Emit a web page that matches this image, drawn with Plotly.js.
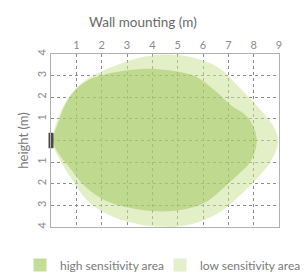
<!DOCTYPE html>
<html>
<head>
<meta charset="utf-8">
<script src="https://cdn.plot.ly/plotly-3.0.1.min.js"></script>
<style>
html,body{margin:0;padding:0;background:#fff;}
#chart{width:306px;height:273px;}
</style>
</head>
<body>
<div id="chart"></div>
<script>
// Low sensitivity area outline (x: distance from wall in m, y: height in m)
const lowX = [0.05, 0.3, 0.7, 1.2, 2.0, 2.9, 3.7, 4.3, 5.0, 5.7, 6.6, 7.4, 8.05, 8.58, 8.85, 8.97, 8.87, 8.65, 8.1, 7.4, 6.75, 5.95, 5.1, 4.3, 3.5, 2.4, 1.5, 0.85, 0.35, 0.1, 0.05];
const lowY = [0, 1.1, 2.0, 2.65, 3.2, 3.62, 3.88, 3.97, 3.95, 3.8, 3.38, 2.5, 1.7, 1.0, 0.5, 0, -0.5, -1.0, -1.8, -2.6, -3.25, -3.72, -3.97, -3.98, -3.88, -3.5, -2.85, -1.85, -0.9, -0.3, 0];
// High sensitivity area outline
const highX = [0.08, 0.32, 0.58, 0.96, 1.48, 2.4, 3.46, 4.24, 5.03, 5.69, 6.48, 7.14, 7.55, 7.82, 8.04, 8.12, 8.05, 7.86, 7.5, 6.87, 6.22, 5.56, 4.77, 3.98, 3.06, 2.14, 1.35, 0.7, 0.3, 0.08];
const highY = [0, 0.94, 1.7, 2.33, 2.8, 3.13, 3.3, 3.3, 3.18, 2.97, 2.3, 1.6, 1.3, 1.0, 0.5, 0, -0.5, -1.0, -1.45, -2.13, -2.77, -3.1, -3.26, -3.26, -3.1, -2.77, -2.13, -1.2, -0.6, 0];
// Sensor position
const sensorX = [0];
const sensorY = [0];
// Axis ticks
const xTickVals = [1, 2, 3, 4, 5, 6, 7, 8, 9];
const xTickText = ['1', '2', '3', '4', '5', '6', '7', '8', '9'];
const yTickVals = [-4, -3, -2, -1, 0, 1, 2, 3, 4];
const yTickText = ['4', '3', '2', '1', '', '1', '2', '3', '4'];
const seriesNames = ['high sensitivity area', 'low sensitivity area'];

const FONT = 'Lato, "Liberation Sans", sans-serif';
const highCol = '#c3dd98';
const lowCol = '#e4efcc';

const traces = [
  {x: lowX, y: lowY, type: 'scatter', mode: 'lines', fill: 'toself',
   fillcolor: 'rgba(200,225,150,0.53)', line: {width: 0, shape: 'spline', smoothing: 1},
   hoverinfo: 'skip', showlegend: false},
  {x: highX, y: highY, type: 'scatter', mode: 'lines', fill: 'toself',
   fillcolor: 'rgba(160,200,90,0.52)', line: {width: 0, shape: 'spline', smoothing: 1},
   hoverinfo: 'skip', showlegend: false},
  {x: sensorX, y: sensorY, type: 'scatter', mode: 'markers', cliponaxis: false,
   marker: {symbol: 'line-ns', size: 11, line: {width: 5, color: '#4a4a4a'}},
   hoverinfo: 'skip', showlegend: false},
  {x: [null], y: [null], type: 'scatter', mode: 'markers', name: seriesNames[0],
   marker: {symbol: 'square', size: 13, color: highCol}, legend: 'legend'},
  {x: [null], y: [null], type: 'scatter', mode: 'markers', name: seriesNames[1],
   marker: {symbol: 'square', size: 13, color: lowCol}, legend: 'legend2'}
];

const axisCommon = {
  showline: true, mirror: true, linecolor: '#b0b0b0', linewidth: 1,
  showgrid: true, gridcolor: '#8c8c8c', griddash: 'dot', gridwidth: 1,
  zeroline: false, ticks: '', tickfont: {family: FONT, size: 11, color: '#8a8a8a'},
  fixedrange: true
};

const legendCommon = {xref: 'container', yref: 'container', y: 1 - 265/273, xanchor: 'left', yanchor: 'middle',
  orientation: 'h', font: {family: FONT, size: 12, color: '#7a7a7a'}, bgcolor: 'rgba(0,0,0,0)', borderwidth: 0};

const layout = {
  width: 306, height: 273,
  margin: {l: 51, r: 27, t: 54, b: 46, pad: 0},
  paper_bgcolor: '#ffffff', plot_bgcolor: '#ffffff',
  title: {text: 'Wall mounting (m)', font: {family: FONT, size: 13.5, color: '#6a6a6a'},
          x: 0.467, xanchor: 'center', xref: 'container', y: 0.92, yanchor: 'middle', yref: 'container'},
  xaxis: Object.assign({}, axisCommon, {side: 'top', range: [0, 9], tickvals: xTickVals, ticktext: xTickText}),
  yaxis: Object.assign({}, axisCommon, {range: [-4, 4], tickvals: yTickVals, ticktext: yTickText, tickangle: -90,
          title: {text: 'height (m)', font: {family: FONT, size: 13, color: '#7a7a7a'}, standoff: 3}}),
  legend: Object.assign({}, legendCommon, {x: 20/306}),
  legend2: Object.assign({}, legendCommon, {x: 160/306}),
  showlegend: true
};

Plotly.newPlot('chart', traces, layout, {displayModeBar: false, staticPlot: true});
</script>
</body>
</html>
